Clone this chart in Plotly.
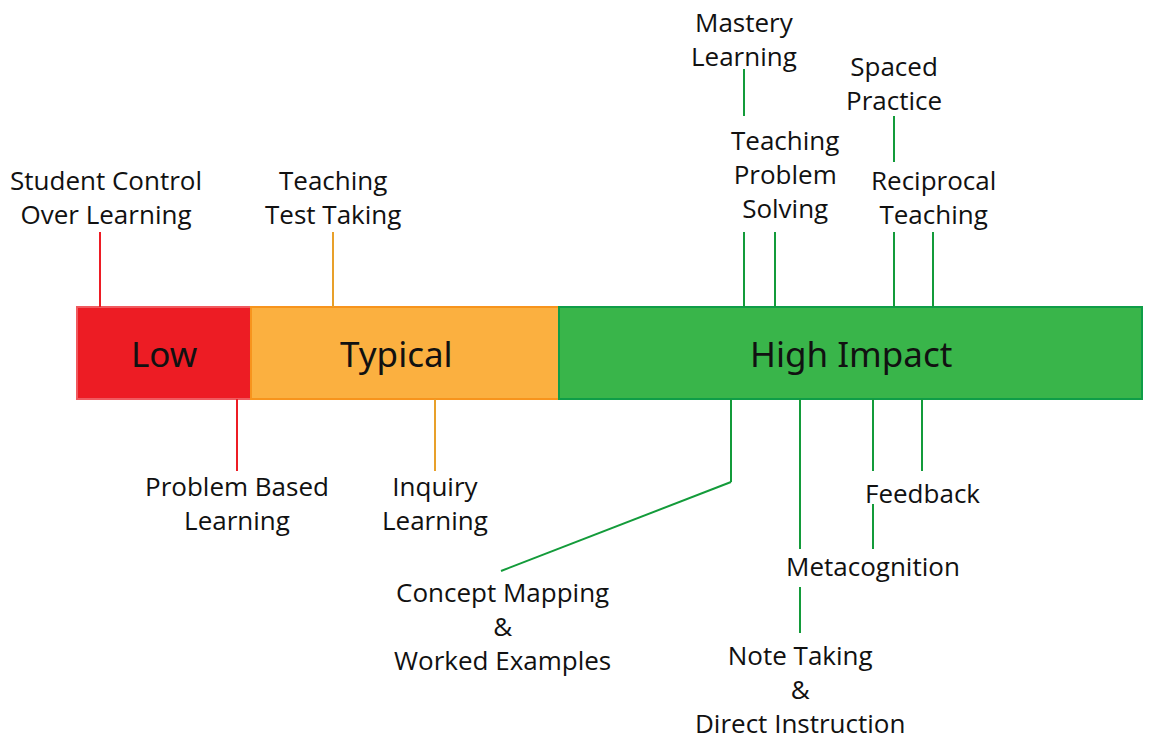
import plotly.graph_objects as go

# impact bands along the scale
bands = ["Low", "Typical", "High Impact"]
band_start = [77, 251, 559]
band_end = [251, 559, 1142]
band_label_x = [164, 396, 851]
band_fill = ["#ED1C24", "#FBB040", "#39B54A"]
band_edge = ["#F05A5F", "#F7941D", "#0F9D48"]
band_line = ["#ED1C24", "#E8A02A", "#139B3A"]

# strategies and where they sit on the scale
strategies = [
    "Student Control<br>Over Learning",
    "Teaching<br>Test Taking",
    "Mastery<br>Learning",
    "Teaching<br>Problem<br>Solving",
    "Spaced<br>Practice",
    "Reciprocal<br>Teaching",
    "Problem Based<br>Learning",
    "Inquiry<br>Learning",
    "Concept Mapping<br>&<br>Worked Examples",
    "Note Taking<br>&<br>Direct Instruction",
    "Metacognition",
    "Feedback",
]
strategy_x = [100, 333, 744, 775, 894, 933, 237, 435, 731, 800, 873, 922]

# label placement (layout only)
label_x = [106, 333, 744, 785, 894, 933, 237, 435, 502, 800, 873, 922]
label_y = [197, 197, 39, 174, 83, 197, 503, 503, 626, 689, 566, 493]
leader_gaps = [
    [(232, 307)],
    [(232, 307)],
    [(69, 116), (232, 307)],
    [(232, 307)],
    [(116, 162), (232, 307)],
    [(232, 307)],
    [(399, 471)],
    [(399, 471)],
    [(399, 482)],
    [(399, 549), (587, 633)],
    [(399, 471), (504, 549)],
    [(399, 471)],
]
bar_top, bar_bottom = 307, 399

# the page body has an 8px margin, so offset the ranges to line up
off = 8

fig = go.Figure()
shapes = []
annotations = []

for i in range(len(bands)):
    shapes.append(dict(type="rect", xref="x", yref="y",
                       x0=band_start[i], x1=band_end[i], y0=bar_top, y1=bar_bottom,
                       fillcolor=band_fill[i], line=dict(color=band_edge[i], width=2),
                       layer="below"))
    annotations.append(dict(x=band_label_x[i], y=(bar_top + bar_bottom) / 2, xref="x", yref="y",
                            text=bands[i], showarrow=False,
                            font=dict(family="Noto Sans", size=35, color="#111111")))


def band_color(x):
    for i in range(len(bands)):
        if band_start[i] <= x < band_end[i]:
            return band_line[i]
    return band_line[-1]


for i, name in enumerate(strategies):
    x = strategy_x[i]
    c = band_color(x)
    for (y0, y1) in leader_gaps[i]:
        shapes.append(dict(type="line", xref="x", yref="y", x0=x, x1=x, y0=y0, y1=y1,
                           line=dict(color=c, width=2)))
    if i == 8:
        # angled leader down to the label
        shapes.append(dict(type="line", xref="x", yref="y", x0=x, x1=label_x[i] - 1,
                           y0=leader_gaps[i][-1][1], y1=571, line=dict(color=c, width=2)))
    annotations.append(dict(x=label_x[i], y=label_y[i], xref="x", yref="y",
                            text=name, showarrow=False, align="center",
                            font=dict(family="Open Sans", size=26, color="#111111")))

fig.update_layout(
    width=1173, height=742,
    margin=dict(l=0, r=0, t=0, b=0),
    paper_bgcolor="white", plot_bgcolor="white",
    xaxis=dict(range=[off, 1173 + off], visible=False, fixedrange=True),
    yaxis=dict(range=[742 + off, off], visible=False, fixedrange=True),
    shapes=shapes, annotations=annotations,
    showlegend=False,
)
fig.write_html("out.html")
